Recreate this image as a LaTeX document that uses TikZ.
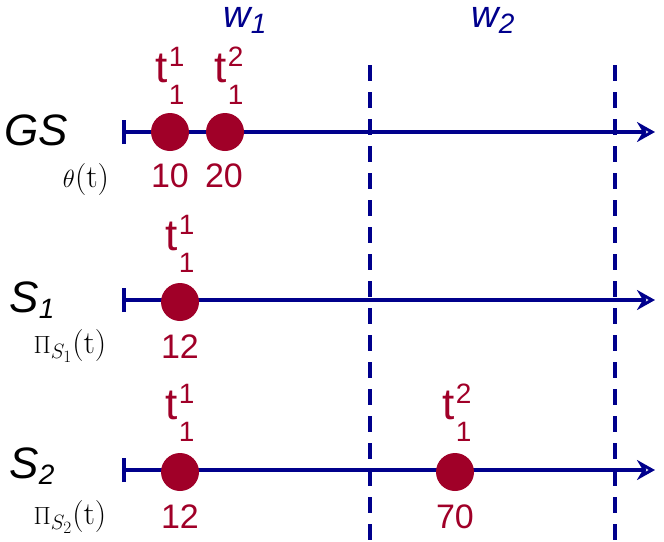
\documentclass[tikz,border=0pt]{standalone}
\usepackage{fontspec}
\setsansfont{Liberation Sans}
\usetikzlibrary{arrows.meta}
\definecolor{navy}{RGB}{0,0,140}
\definecolor{wine}{RGB}{160,0,40}
% letter with stacked super- and subscript
\newcommand{\stk}[3]{#1\kern1pt\begin{tabular}{@{}l@{}}\fontsize{28}{24}\selectfont #2\\[-8pt]\fontsize{28}{24}\selectfont #3\end{tabular}}
\newcommand{\lowsub}[2]{#1\raisebox{-6pt}{\fontsize{28}{28}\selectfont #2}}
\tikzset{
  timeline/.style={navy, line width=4pt, {Bar[width=24pt]}-{Stealth[length=18pt,width=20pt,open,fill=none]}},
  window/.style={navy, line width=4pt, dash pattern=on 16pt off 11pt},
  event/.style={circle, fill=wine, minimum size=38pt, inner sep=0pt},
  evlabel/.style={wine, inner sep=0pt, font=\sffamily\fontsize{44}{46}\selectfont},
  evnum/.style={wine, font=\sffamily\fontsize{34}{36}\selectfont},
  site/.style={font=\sffamily\itshape\fontsize{44}{46}\selectfont},
  wlabel/.style={navy, font=\sffamily\itshape\fontsize{38}{40}\selectfont},
  func/.style={font=\fontsize{32}{34}\selectfont}
}
\begin{document}
\begin{tikzpicture}[x=1pt,y=-1pt]
\useasboundingbox (0,0) rectangle (664,541);
% windows
\draw[window] (370,65) -- (370,541);
\draw[window] (615,65) -- (615,541);
\node[wlabel] (w1) at (245,20) {\lowsub{w}{1}};
\node[wlabel] (w2) at (493,20) {\lowsub{w}{2}};
% GS
\coordinate (gs0) at (122,132); \coordinate (gs1) at (655,132);
\draw[timeline] (gs0) -- (gs1);
\node[site] (gs) at (36,130) {GS};
\node[func] (theta) at (86,180) {$\theta$(t)};
\node[event] (g1) at (170,132) {};
\node[event] (g2) at (225,132) {};
\node[evlabel] (g1t) at (170,76) {\stk{t}{1}{1}};
\node[evlabel] (g2t) at (229,76) {\stk{t}{2}{1}};
\node[evnum] (g1n) at (170,176) {10};
\node[evnum] (g2n) at (224,176) {20};
% S1
\coordinate (a0) at (122,300); \coordinate (a1) at (655,300);
\draw[timeline] (a0) -- (a1);
\node[site] (s1) at (32,300) {\lowsub{S}{1}};
\node[func] (pi1) at (70,346) {$\Pi_{S_1}$(t)};
\node[event] (a1e) at (180,302) {};
\node[evlabel] (a1t) at (180,244) {\stk{t}{1}{1}};
\node[evnum] (a1n) at (180,347) {12};
% S2
\coordinate (b0) at (122,470); \coordinate (b1) at (655,470);
\draw[timeline] (b0) -- (b1);
\node[site] (s2) at (32,466) {\lowsub{S}{2}};
\node[func] (pi2) at (70,517) {$\Pi_{S_2}$(t)};
\node[event] (b1e) at (180,472) {};
\node[event] (b2e) at (455,472) {};
\node[evlabel] (b1t) at (180,413) {\stk{t}{1}{1}};
\node[evlabel] (b2t) at (457,413) {\stk{t}{2}{1}};
\node[evnum] (b1n) at (180,517) {12};
\node[evnum] (b2n) at (455,517) {70};
\end{tikzpicture}
\end{document}
